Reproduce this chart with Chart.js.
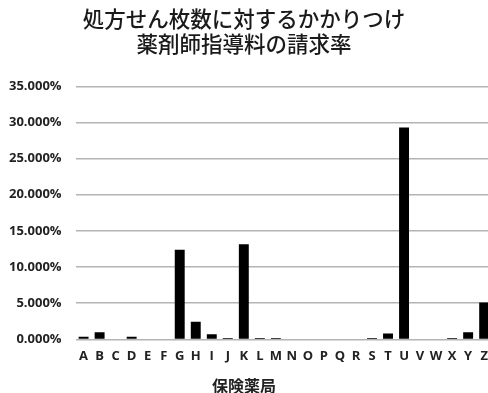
<!DOCTYPE html>
<html>
<head>
<meta charset="utf-8">
<script src="https://cdn.jsdelivr.net/npm/chart.js@4/dist/chart.umd.min.js"></script>
<style>
html, body { margin: 0; padding: 0; background: #fff; overflow: hidden; }
#wrap { position: relative; width: 497px; height: 393px; }
</style>
</head>
<body>
<div id="wrap"><canvas id="rateChart"></canvas></div>
<script>
// 保険薬局ごとの請求率 (%)
var pharmacies = ['A','B','C','D','E','F','G','H','I','J','K','L','M','N','O','P','Q','R','S','T','U','V','W','X','Y','Z'];
var claimRates = [0.35, 1.0, 0, 0.35, 0, 0, 12.4, 2.45, 0.7, 0.2, 13.15, 0.2, 0.2, 0, 0, 0, 0, 0, 0.2, 0.8, 29.3, 0, 0, 0.2, 1.0, 5.1];
var titleLines = ['処方せん枚数に対するかかりつけ', '薬剤師指導料の請求率'];
var axisTitle = '保険薬局';

var ctx = document.getElementById('rateChart').getContext('2d');
var rateChart = new Chart(ctx, {
    type: 'bar',
    data: {
        labels: pharmacies,
        datasets: [{
            data: claimRates,
            backgroundColor: '#000',
            borderWidth: 0,
            barPercentage: 0.62,
            categoryPercentage: 1
        }]
    },
    options: {
        responsive: true,
        maintainAspectRatio: false,
        animation: false,
        layout: { padding: { left: -5, right: 4, top: 0, bottom: 0 } },
        plugins: {
            legend: { display: false },
            tooltip: { enabled: false },
            title: {
                display: true,
                text: titleLines,
                color: '#1a1a1a',
                font: { family: '"Noto Sans CJK JP"', size: 21.5, weight: '500', lineHeight: 1.17 },
                padding: { top: 6, bottom: 30 }
            },
            // 横軸のタイトルは下側のサブタイトルとして描く
            subtitle: {
                display: true,
                position: 'bottom',
                text: axisTitle,
                color: '#222',
                font: { family: '"Noto Sans CJK JP"', size: 16, weight: 'bold', lineHeight: 1.0 },
                padding: { top: 5, bottom: -1 }
            }
        },
        scales: {
            x: {
                grid: { display: false, drawTicks: false },
                border: { display: false },
                ticks: {
                    color: '#222',
                    autoSkip: false,
                    maxRotation: 0,
                    padding: 9,
                    font: { family: '"Open Sans"', size: 13, weight: 'bold' }
                }
            },
            y: {
                min: 0,
                max: 35,
                grid: { color: '#b4b4b4', lineWidth: 1.5, drawTicks: false },
                border: { display: false },
                ticks: {
                    stepSize: 5,
                    color: '#222',
                    padding: 14,
                    font: { family: '"Open Sans"', size: 13, weight: 'bold' },
                    callback: function(v) { return v.toFixed(3) + '%'; }
                }
            }
        }
    }
});
</script>
</body>
</html>
